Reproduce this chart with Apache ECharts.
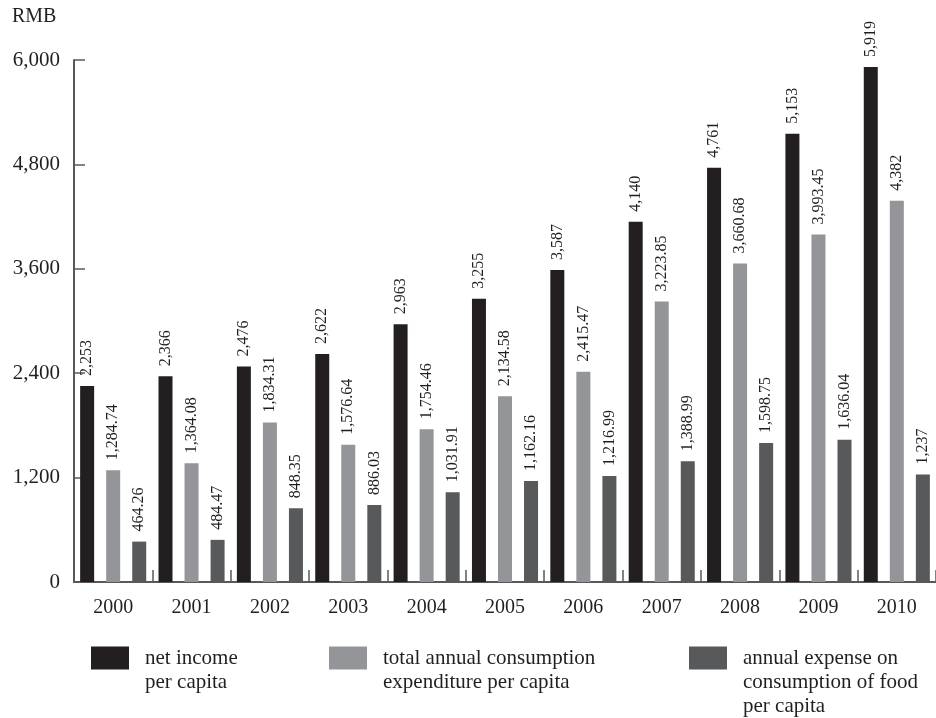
<!DOCTYPE html>
<html>
<head>
<meta charset="utf-8">
<script src="https://cdn.jsdelivr.net/npm/echarts@6/dist/echarts.min.js"></script>
<style>
html,body{margin:0;padding:0;background:#fff;}
#chart{width:936px;height:718px;}
</style>
</head>
<body>
<div id="chart"></div>
<script>
var years = ['2000','2001','2002','2003','2004','2005','2006','2007','2008','2009','2010'];
var netIncome = [2253, 2366, 2476, 2622, 2963, 3255, 3587, 4140, 4761, 5153, 5919];
var totalConsumption = [1284.74, 1364.08, 1834.31, 1576.64, 1754.46, 2134.58, 2415.47, 3223.85, 3660.68, 3993.45, 4382];
var foodExpense = [464.26, 484.47, 848.35, 886.03, 1031.91, 1162.16, 1216.99, 1388.99, 1598.75, 1636.04, 1237];
var seriesNames = ['net income\nper capita', 'total annual consumption\nexpenditure per capita', 'annual expense on\nconsumption of food\nper capita'];
var unitLabel = 'RMB';

var FONT = "'Liberation Serif', 'Times New Roman', serif";
var TXT = '#231f20';
var AXIS = '#58595b';
var colors = ['#231f20', '#939598', '#58595b'];

function fmt(v) {
  var parts = String(v).split('.');
  parts[0] = parts[0].replace(/\B(?=(\d{3})+(?!\d))/g, ',');
  return parts.join('.');
}

var chart = echarts.init(document.getElementById('chart'), null, {renderer: 'canvas'});

function barSeries(name, data, color) {
  return {
    name: name,
    type: 'bar',
    data: data,
    barWidth: 14,
    barGap: '86%',
    itemStyle: {color: color},
    label: {
      show: true,
      position: 'top',
      rotate: 90,
      align: 'left',
      verticalAlign: 'middle',
      distance: 10,
      color: TXT,
      fontFamily: FONT,
      fontSize: 16,
      formatter: function (p) { return fmt(p.value); }
    }
  };
}

function legendFor(name, left, top, blankLines) {
  var prefix = '';
  for (var i = 0; i < blankLines; i++) prefix += '\n';
  return {
    data: [name],
    left: left,
    top: top,
    padding: 0,
    orient: 'horizontal',
    icon: 'rect',
    itemWidth: 38,
    itemHeight: 23,
    selectedMode: false,
    formatter: function (n) { return prefix + n; },
    textStyle: {
      color: TXT,
      fontFamily: FONT,
      fontSize: 21,
      lineHeight: 24,
      padding: [0, 0, 0, 11]
    }
  };
}

var option = {
  backgroundColor: '#ffffff',
  animation: false,
  title: {
    text: unitLabel,
    left: 12,
    top: 7,
    padding: 0,
    textStyle: {color: TXT, fontFamily: FONT, fontSize: 20, fontWeight: 'normal'}
  },
  legend: [
    legendFor(seriesNames[0], 91, 622, 1),
    legendFor(seriesNames[1], 329, 622, 1),
    legendFor(seriesNames[2], 689, 598, 2)
  ],
  grid: {left: 74, right: 0, top: 60, bottom: 136, containLabel: false},
  xAxis: {
    type: 'category',
    data: years,
    boundaryGap: true,
    axisLine: {show: true, lineStyle: {color: AXIS, width: 2}},
    axisTick: {show: true, inside: true, length: 12, lineStyle: {color: AXIS, width: 1.5}},
    axisLabel: {color: TXT, fontFamily: FONT, fontSize: 20, margin: 16}
  },
  yAxis: {
    type: 'value',
    min: 0,
    max: 6000,
    interval: 1200,
    splitLine: {show: false},
    axisLine: {show: true, lineStyle: {color: AXIS, width: 2}},
    axisTick: {show: true, inside: true, length: 11, lineStyle: {color: AXIS, width: 1.5}},
    axisLabel: {color: TXT, fontFamily: FONT, fontSize: 21, margin: 14, formatter: function (v) { return fmt(v); }}
  },
  series: [
    barSeries(seriesNames[0], netIncome, colors[0]),
    barSeries(seriesNames[1], totalConsumption, colors[1]),
    barSeries(seriesNames[2], foodExpense, colors[2])
  ]
};
chart.setOption(option);
</script>
</body>
</html>
